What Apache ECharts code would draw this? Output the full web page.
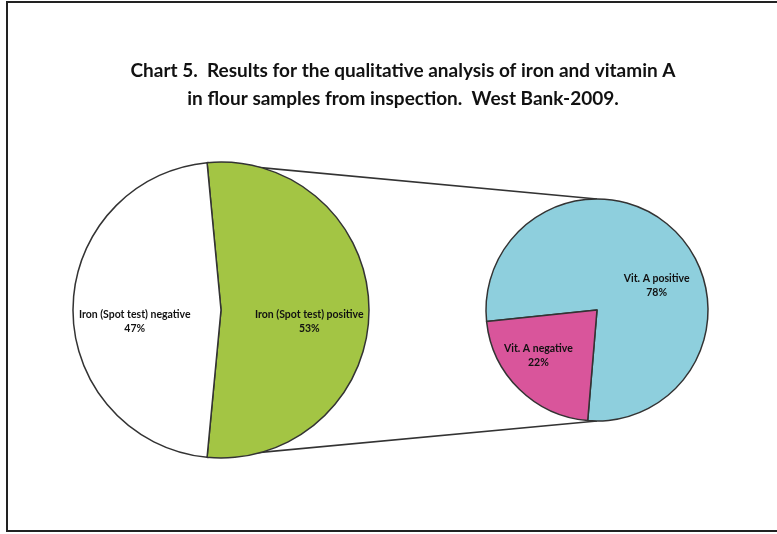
<!DOCTYPE html>
<html>
<head>
<meta charset="utf-8">
<script src="https://cdn.jsdelivr.net/npm/echarts@6/dist/echarts.min.js"></script>
<style>
  html, body { margin: 0; padding: 0; background: #fff; }
  #main { width: 777px; height: 534px; }
</style>
</head>
<body>
<div id="main"></div>
<script>
// data
const ironLabels = ['Iron (Spot test) positive', 'Iron (Spot test) negative'];
const ironValues = [53, 47];
const ironColors = ['#a3c544', '#ffffff'];

const vitLabels = ['Vit. A positive', 'Vit. A negative'];
const vitValues = [78, 22];
const vitColors = ['#8ecfdd', '#d9559b'];

// layout
const leftCenter = [221, 310], leftR = 148;
const rightCenter = [597, 310], rightR = 111;

let chart = echarts.init(document.getElementById('main'));

// positive share is centred at 3 o'clock, like excel's pie of pie
const ironTotal = ironValues.reduce((a, b) => a + b, 0);
const ironStart = ironValues[0] / ironTotal * 180;
const vitStart = 186;

const a = ironStart * Math.PI / 180;
const topPt = [leftCenter[0] + leftR * Math.cos(a), leftCenter[1] - leftR * Math.sin(a)];
const botPt = [leftCenter[0] + leftR * Math.cos(a), leftCenter[1] + leftR * Math.sin(a)];

function pieData(labels, values, colors) {
  return labels.map((name, i) => ({value: values[i], name: name, itemStyle: {color: colors[i]}}))
}

const labelStyle = {
  show: true,
  position: 'inside',
  formatter: '{b}\n{d}%',
  fontFamily: 'Lato',
  fontWeight: 'bold',
  fontSize: 10.5,
  lineHeight: 14,
  color: '#111'
};

chart.setOption({
  animation: false,
  backgroundColor: '#fff',
  title: {
    text: 'Chart 5.  Results for the qualitative analysis of iron and vitamin A\nin flour samples from inspection.  West Bank-2009.',
    left: 398,
    textAlign: 'center',
    top: 52,
    textStyle: {fontFamily: 'Lato', fontWeight: 'bold', fontSize: 19, lineHeight: 28, color: '#111'}
  },
  graphic: [
    {type: 'rect', shape: {x: 7, y: 2, width: 790, height: 529}, style: {fill: null, stroke: '#222', lineWidth: 2}, z: 0},
    {type: 'line', shape: {x1: topPt[0], y1: topPt[1], x2: rightCenter[0], y2: rightCenter[1] - rightR}, style: {stroke: '#333', lineWidth: 1.6}, z: 0},
    {type: 'line', shape: {x1: botPt[0], y1: botPt[1], x2: rightCenter[0], y2: rightCenter[1] + rightR}, style: {stroke: '#333', lineWidth: 1.6}, z: 0}
  ],
  series: [
    {
      type: 'pie',
      center: leftCenter,
      radius: [0, leftR],
      startAngle: ironStart,
      clockwise: true,
      silent: true,
      label: {show: false},
      labelLine: {show: false},
      itemStyle: {borderColor: '#333', borderWidth: 1.5},
      data: pieData(ironLabels, ironValues, ironColors)
    },
    {
      type: 'pie',
      center: rightCenter,
      radius: [0, rightR],
      startAngle: vitStart,
      clockwise: true,
      silent: true,
      label: {show: false},
      labelLine: {show: false},
      itemStyle: {borderColor: '#333', borderWidth: 1.5},
      data: pieData(vitLabels, vitValues, vitColors)
    },
    // label rings: put the labels a bit further out than the half radius
    {
      type: 'pie',
      center: leftCenter,
      radius: [leftR * 0.22, leftR],
      startAngle: ironStart,
      clockwise: true,
      silent: true,
      z: 3,
      label: labelStyle,
      labelLine: {show: false},
      labelLayout: function (p) {
        return {dx: p.dataIndex === 0 ? -5 : 7, dy: 12}
      },
      itemStyle: {color: 'transparent', borderWidth: 0},
      data: ironLabels.map((name, i) => ({value: ironValues[i], name: name}))
    },
    {
      type: 'pie',
      center: rightCenter,
      radius: [rightR * 0.25, rightR],
      startAngle: vitStart,
      clockwise: true,
      silent: true,
      z: 3,
      label: labelStyle,
      labelLine: {show: false},
      labelLayout: function (p) {
        return p.dataIndex === 0 ? {dx: 9, dy: 27} : {dx: -8, dy: -6}
      },
      itemStyle: {color: 'transparent', borderWidth: 0},
      data: vitLabels.map((name, i) => ({value: vitValues[i], name: name}))
    }
  ]
});
</script>
</body>
</html>
